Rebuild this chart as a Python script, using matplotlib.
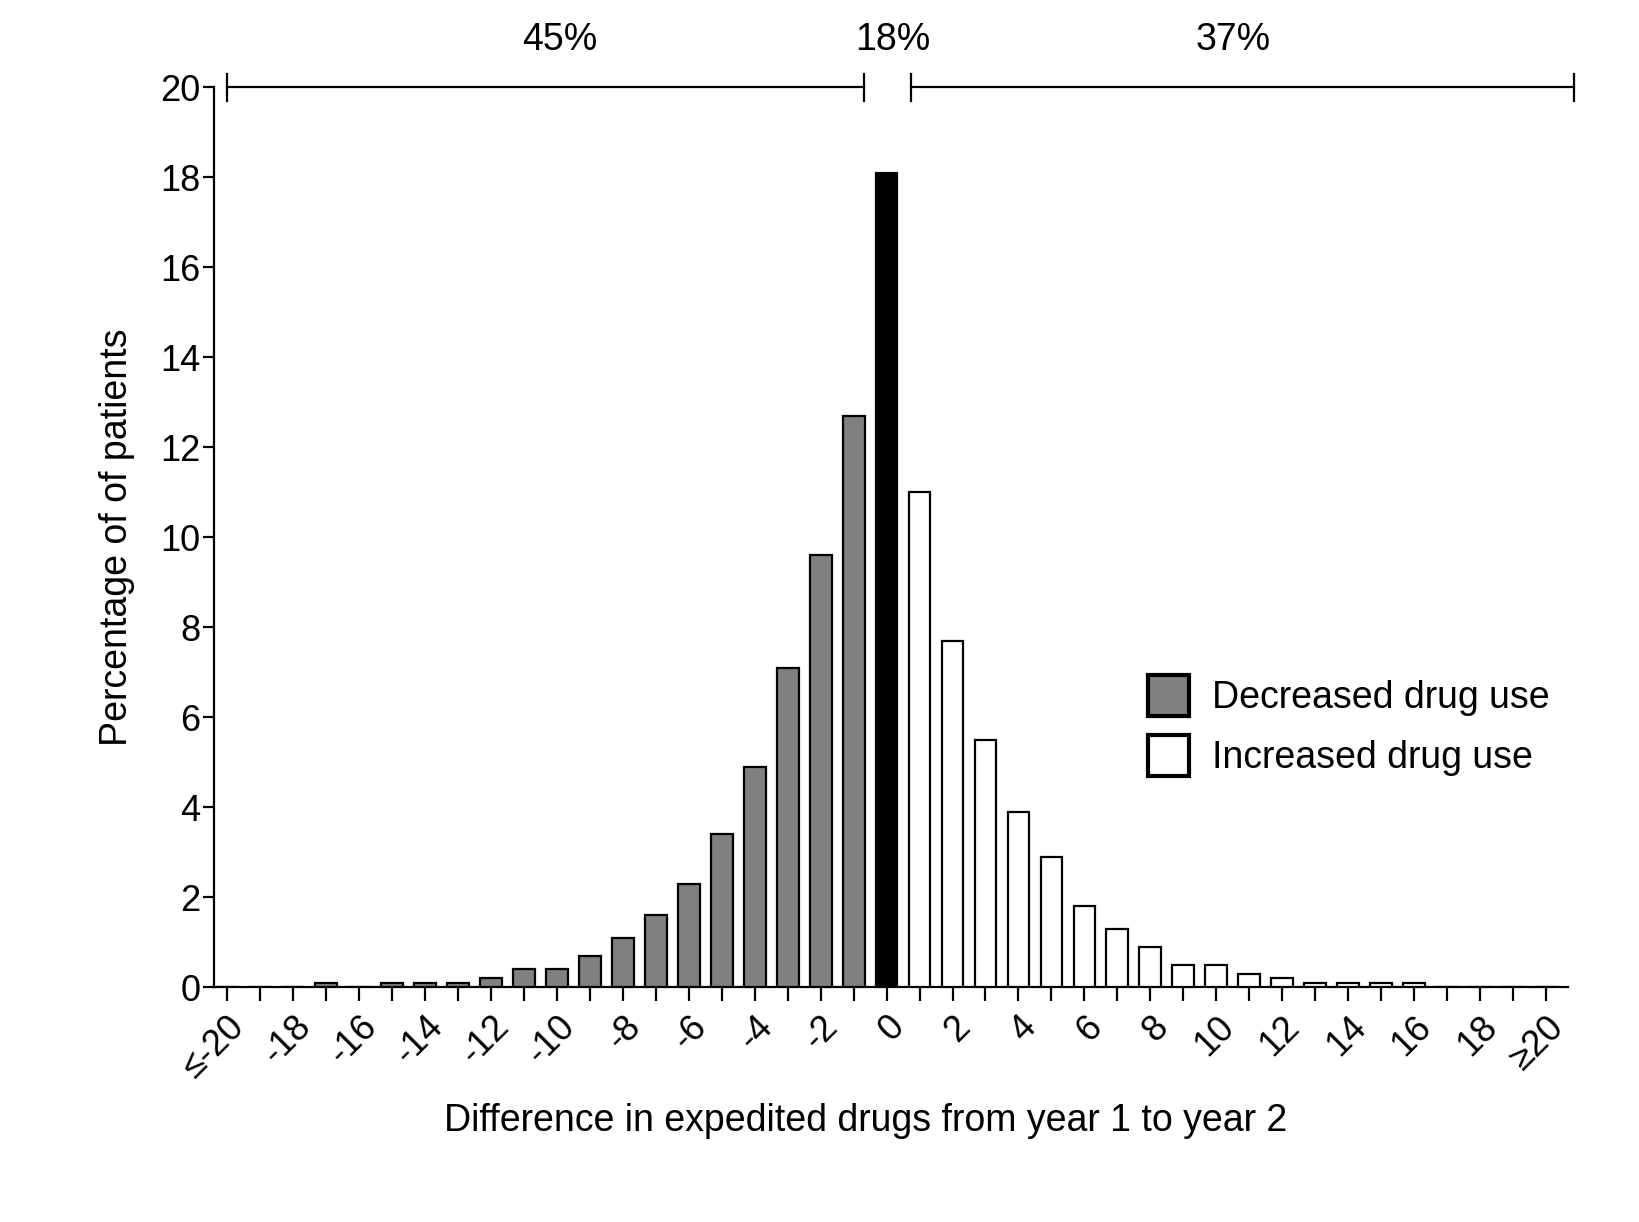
import matplotlib
matplotlib.use("Agg")
from matplotlib import pyplot as plt
from matplotlib.patches import Patch
import numpy as np

plt.rcParams['font.family'] = ['Liberation Sans', 'DejaVu Sans']

# difference in expedited drugs, -20 (<=-20) .. 20 (>=20)
diffs = list(range(-20, 21))
pct = [0.0, 0.0, 0.0, 0.1, 0.0, 0.1, 0.1, 0.1, 0.2, 0.4,
       0.4, 0.7, 1.1, 1.6, 2.3, 3.4, 4.9, 7.1, 9.6, 12.7,
       18.1,
       11.0, 7.7, 5.5, 3.9, 2.9, 1.8, 1.3, 0.9, 0.5, 0.5,
       0.3, 0.2, 0.1, 0.1, 0.1, 0.1, 0.0, 0.0, 0.0, 0.0]
tick_labels = ["\u2264-20", "-18", "-16", "-14", "-12", "-10", "-8", "-6", "-4", "-2",
               "0", "2", "4", "6", "8", "10", "12", "14", "16", "18", "\u226520"]
group_pct = ["45%", "18%", "37%"]
legend_labels = ["Decreased drug use", "Increased drug use"]

fig = plt.figure(figsize=(16.39, 12.22), dpi=100)
ax = fig.add_axes([0.1306, 0.1923, 0.8261, 0.7365])

colors = ['#808080' if d < 0 else ('black' if d == 0 else 'white') for d in diffs]
ax.bar(diffs, pct, width=0.66, color=colors, edgecolor='black', linewidth=1.6, zorder=3)

ax.set_xlim(-20.4, 20.67)
ax.set_ylim(0, 20)
ax.set_yticks(np.arange(0, 21, 2))
ax.set_xticks(diffs, minor=True)
ax.set_xticks(diffs[::2])
ax.set_xticklabels(tick_labels, rotation=45, ha='right', va='top', rotation_mode='anchor')
ax.tick_params(axis='both', labelsize=26, width=1.6, direction='out')
ax.tick_params(axis='y', length=8, pad=2)
ax.tick_params(axis='x', which='both', length=10, width=1.6, pad=6)

for s in ['top', 'right']:
    ax.spines[s].set_visible(False)
for s in ['left', 'bottom']:
    ax.spines[s].set_linewidth(1.6)

ax.set_ylabel("Percentage of of patients", fontsize=27, labelpad=18)
ax.set_xlabel("Difference in expedited drugs from year 1 to year 2", fontsize=27)
ax.xaxis.set_label_coords(0.481, -0.129)

# brackets on top
for x0, x1 in [(-20, -0.7), (0.73, 20.86)]:
    ax.plot([x0, x1], [20, 20], color='black', lw=1.6, clip_on=False)
    for xx in (x0, x1):
        ax.plot([xx, xx], [19.7, 20.3], color='black', lw=1.6, clip_on=False)
for xt, lab in zip([-9.9, 0.2, 10.5], group_pct):
    ax.text(xt, 21.05, lab, ha='center', va='center', fontsize=27, clip_on=False)

handles = [Patch(facecolor='#808080', edgecolor='black', linewidth=3),
           Patch(facecolor='white', edgecolor='black', linewidth=3)]
ax.legend(handles, legend_labels, loc='upper left', bbox_to_anchor=(0.665, 0.384),
          frameon=False, fontsize=27, handlelength=1.1, handleheight=1.3,
          handletextpad=0.6, labelspacing=0.5)

fig.savefig("out.png", dpi=100)
